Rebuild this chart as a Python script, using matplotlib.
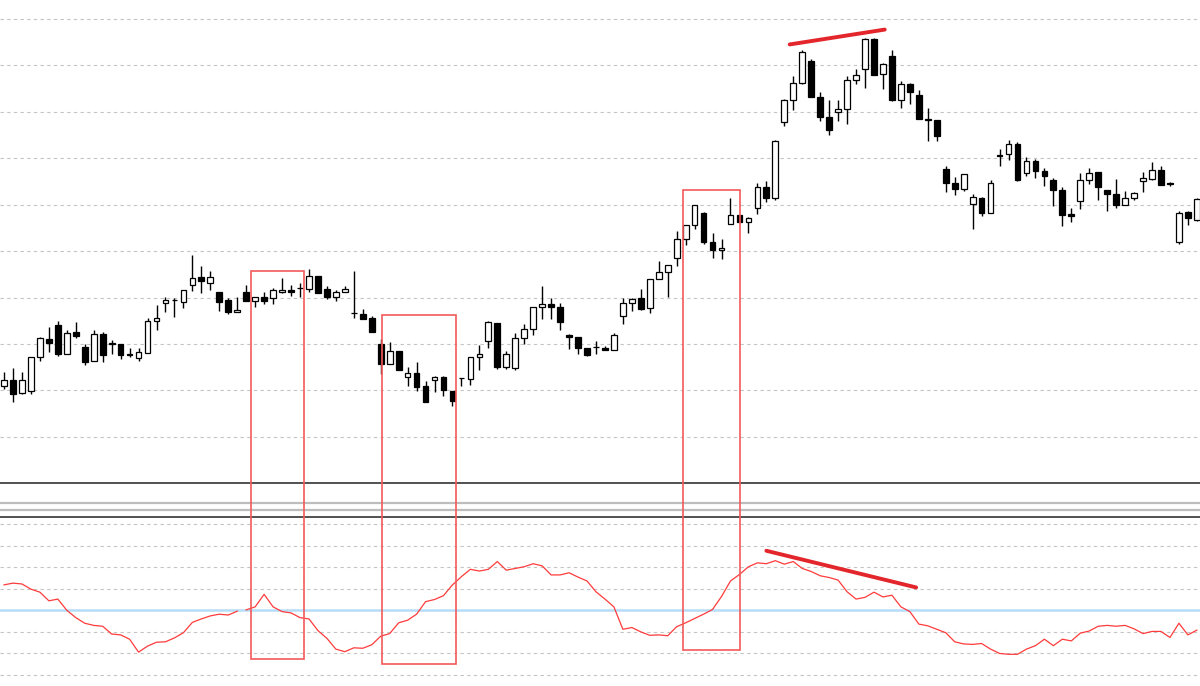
import matplotlib
matplotlib.use("Agg")
import matplotlib.pyplot as plt
from matplotlib.patches import Rectangle
import numpy as np

# candle data (open, high, low, close), one row per bar
ohlc = [
    (110.9, 114.0, 110.4, 112.2), (112.2, 114.8, 107.4, 109.3), (109.5, 113.9, 109.2, 112.2),
    (109.9, 117.3, 109.2, 117.2), (117.1, 121.4, 116.3, 121.3), (121.0, 123.7, 118.3, 120.3),
    (124.0, 124.9, 117.4, 117.8), (117.8, 123.0, 117.8, 122.4), (122.5, 124.7, 121.3, 121.7),
    (119.4, 120.1, 115.4, 116.2), (116.3, 123.1, 116.3, 122.2), (122.2, 122.5, 116.2, 117.6),
    (119.9, 120.9, 117.9, 120.3), (120.1, 120.1, 116.8, 117.6), (117.8, 119.2, 117.3, 117.7),
    (116.9, 119.1, 116.3, 118.2), (118.0, 125.7, 118.0, 125.0), (124.9, 128.3, 123.1, 125.5),
    (128.8, 130.1, 126.8, 129.4), (129.5, 129.9, 125.8, 129.5), (129.1, 131.7, 127.8, 131.6),
    (132.8, 139.2, 131.3, 134.1), (134.4, 136.8, 131.0, 133.6), (133.2, 135.8, 131.7, 134.4),
    (131.2, 131.2, 127.0, 129.1), (129.4, 129.9, 126.5, 126.9), (126.9, 130.1, 126.8, 127.4),
    (131.1, 132.8, 129.2, 129.2), (129.2, 130.1, 128.0, 130.1), (130.1, 131.2, 128.7, 129.2),
    (129.9, 132.1, 128.7, 131.6), (131.2, 134.2, 130.9, 131.6), (131.6, 132.8, 130.3, 131.2),
    (132.1, 133.1, 130.1, 132.1), (131.8, 136.1, 131.1, 134.6), (134.6, 134.7, 130.9, 130.9),
    (131.9, 132.4, 129.6, 130.1), (130.1, 131.7, 129.2, 131.2), (131.1, 132.4, 131.1, 131.9),
    (126.7, 135.7, 125.6, 126.6), (126.5, 127.5, 125.4, 125.4), (125.6, 126.1, 122.5, 122.6),
    (120.1, 121.1, 113.5, 115.6), (115.6, 120.4, 115.6, 118.5), (118.5, 118.5, 114.5, 114.5),
    (112.9, 115.0, 110.9, 113.8), (113.8, 116.1, 109.8, 110.7), (110.9, 112.0, 107.4, 107.4),
    (112.2, 113.2, 109.7, 112.8), (112.8, 113.2, 108.9, 110.0), (109.9, 109.9, 106.7, 107.7),
    (112.7, 112.7, 110.9, 112.6), (112.5, 117.2, 111.1, 117.1), (117.1, 119.7, 114.5, 117.9),
    (120.6, 125.0, 119.2, 124.7), (124.6, 124.6, 114.7, 115.0), (115.0, 118.4, 114.7, 117.9),
    (114.8, 122.4, 114.3, 121.2), (121.2, 124.2, 119.9, 123.2), (123.3, 127.9, 122.0, 127.9),
    (127.9, 132.4, 125.3, 128.5), (128.6, 129.9, 125.4, 127.9), (127.9, 128.9, 123.1, 124.7),
    (122.0, 122.2, 119.0, 121.6), (121.4, 121.4, 117.9, 119.1), (119.1, 119.1, 117.4, 117.6),
    (119.4, 120.7, 117.8, 119.4), (119.1, 119.6, 118.8, 118.8), (118.8, 122.4, 118.8, 122.0),
    (126.0, 129.9, 124.2, 128.9), (128.9, 130.0, 127.1, 129.6), (129.8, 131.9, 127.4, 127.6),
    (127.8, 133.9, 126.7, 133.9), (133.9, 137.8, 133.9, 135.4), (135.4, 136.9, 130.1, 136.9),
    (138.6, 144.4, 136.8, 142.6), (142.6, 145.6, 141.4, 145.6), (145.6, 150.0, 144.7, 149.9),
    (148.1, 148.4, 141.5, 141.9), (142.0, 143.9, 138.5, 140.2), (140.2, 142.7, 138.3, 140.7),
    (145.9, 151.5, 145.9, 147.7), (147.7, 147.7, 146.2, 146.2), (146.2, 147.4, 143.8, 147.2),
    (149.2, 154.6, 147.9, 153.7), (153.7, 155.0, 150.6, 151.5), (151.5, 163.9, 151.0, 163.7),
    (167.8, 172.7, 166.9, 172.5), (172.5, 177.8, 170.4, 176.1), (176.1, 183.4, 175.9, 182.8),
    (181.0, 181.4, 173.1, 173.2), (173.1, 174.2, 168.1, 168.9), (168.9, 172.5, 165.0, 166.0),
    (169.9, 172.5, 168.1, 170.5), (170.6, 177.8, 167.3, 176.8), (176.8, 179.3, 175.9, 177.9),
    (179.3, 185.8, 175.2, 185.7), (185.7, 185.8, 177.9, 177.9), (178.1, 180.6, 174.8, 180.3),
    (182.1, 183.3, 172.3, 172.5), (172.5, 176.6, 170.9, 175.9), (175.9, 176.3, 171.6, 174.3),
    (173.7, 174.7, 168.4, 168.4), (168.4, 170.9, 163.7, 168.3), (168.2, 168.2, 163.7, 164.8),
    (157.6, 158.3, 152.8, 154.7), (154.7, 156.0, 152.0, 153.3), (153.3, 156.7, 153.0, 156.6),
    (150.1, 152.2, 144.7, 151.7), (151.5, 151.7, 147.5, 148.2), (148.2, 155.4, 148.1, 154.6),
    (160.5, 162.0, 158.4, 160.8), (160.9, 164.0, 159.7, 163.0), (163.0, 163.5, 155.1, 155.3),
    (156.8, 160.3, 156.1, 159.4), (159.4, 159.8, 155.8, 157.3), (157.3, 157.8, 154.0, 156.1),
    (155.4, 155.8, 149.7, 153.1), (153.1, 153.7, 145.4, 147.7), (147.9, 149.3, 146.2, 147.5),
    (150.8, 156.9, 149.0, 155.4), (155.4, 157.9, 154.4, 156.8), (157.1, 157.1, 151.1, 153.8),
    (153.1, 153.1, 148.6, 152.3), (152.3, 155.6, 149.2, 150.0), (150.0, 152.9, 149.9, 151.5),
    (151.5, 152.7, 151.1, 152.5), (155.2, 157.1, 152.8, 155.8), (155.6, 159.1, 155.4, 157.4),
    (157.4, 158.4, 154.3, 154.3), (154.6, 154.9, 154.0, 154.5), (141.9, 148.6, 141.6, 148.3),
    (148.4, 148.6, 145.7, 147.2), (146.8, 151.5, 146.5, 151.3),
]

# oscillator in the lower pane
osc = [59, 63, 61, 49, 42, 22, 26, 0, -17, -30, -35, -37, -55, -57, -67, -97, -83, -74,
       -73, -64, -52, -28, -20, -13, -9, -11, -2, 1, 8, 37, 8, -3, -6, -17, -20, -47, -65,
       -90, -96, -87, -88, -80, -60, -54, -29, -23, -9, 20, 25, 34, 59, 78, 95, 91, 95, 113,
       93, 97, 101, 108, 103, 82, 82, 87, 77, 68, 43, 26, 8, -44, -40, -50, -58, -57, -59,
       -38, -29, -19, -9, 2, 32, 68, 83, 101, 110, 108, 115, 107, 113, 97, 90, 80, 76, 70,
       43, 26, 30, 42, 31, 35, 8, -3, -32, -36, -44, -52, -73, -78, -79, -77, -90, -100,
       -102, -102, -90, -82, -67, -82, -67, -71, -53, -48, -37, -35, -37, -35, -43, -54,
       -49, -49, -63, -30, -57, -46]
osc_break = 27  # line is interrupted before this bar

price_grid = [100, 110, 120, 130, 140, 150, 160, 170, 180, 190]
osc_grid = [200, 150, 100, 50, -50, -100, -150]

# divergence lines: (bar0, value0, bar1, value1)
price_trend = (87.6, 184.5, 98.2, 187.7)
osc_trend = (85.0, 138, 101.7, 53)

# boxes: (bar left, bar right, price top, oscillator bottom)
boxes = [(27.5, 33.4, 135.7, -112), (42.1, 50.4, 126.3, -124), (75.7, 82.1, 153.1, -92)]

o, h, l, c = (np.array(v) for v in zip(*ohlc))
idx = np.arange(len(o))
xlim = (-0.45, 133.35)

fig = plt.figure(figsize=(12, 6.86), dpi=100)
ax_p = fig.add_axes([0, 0.2955, 1, 0.7045])
ax_m = fig.add_axes([0, 0.2561, 1, 0.0111])
ax_i = fig.add_axes([0, 0, 1, 0.2468])

for ax in (ax_p, ax_m, ax_i):
    ax.set_xlim(*xlim)
    ax.set_xticks([])
    ax.set_yticks([])
    for s in ax.spines.values():
        s.set_visible(False)

ax_p.set_ylim(90, 194.07)
ax_i.set_ylim(-175.5, 217)
ax_m.set_ylim(0, 1)

grid_kw = dict(color="#c4c4c4", lw=0.8, linestyle=(0, (3, 3)), zorder=0)
for g in price_grid:
    ax_p.axhline(g, **grid_kw)
for g in osc_grid:
    ax_i.axhline(g, **grid_kw)
ax_i.axhline(0, color="#b5dcf8", lw=1.8, zorder=1)

ax_p.spines["bottom"].set_visible(True)
ax_p.spines["bottom"].set_color("#333333")
ax_p.spines["bottom"].set_linewidth(1.2)
for side in ("top", "bottom"):
    ax_m.spines[side].set_visible(True)
    ax_m.spines[side].set_color("#bdbdbd")
    ax_m.spines[side].set_linewidth(1.6)
ax_i.spines["top"].set_visible(True)
ax_i.spines["top"].set_color("#333333")
ax_i.spines["top"].set_linewidth(1.2)

# candles
up = c >= o
ax_p.vlines(idx, l, h, color="black", lw=1.0, zorder=2)
ax_p.bar(idx, np.abs(c - o), bottom=np.minimum(o, c), width=0.64,
         color=np.where(up, "white", "black"), edgecolor="black", linewidth=0.9, zorder=3)

# oscillator
ax_i.plot(idx[:osc_break], osc[:osc_break], color="#ff3b3b", lw=0.9, zorder=3)
ax_i.plot(idx[osc_break:], osc[osc_break:], color="#ff3b3b", lw=0.9, zorder=3)

# divergence lines
ax_p.plot(price_trend[::2], price_trend[1::2], color="#e3262b", lw=2.8,
          solid_capstyle="round", zorder=4)
ax_i.plot(osc_trend[::2], osc_trend[1::2], color="#e3262b", lw=2.8,
          solid_capstyle="round", zorder=4)

# boxes spanning both panes
to_fig = fig.transFigure.inverted()
for x0, x1, top, bot in boxes:
    fx0, fy1 = to_fig.transform(ax_p.transData.transform((x0, top)))
    fx1, fy0 = to_fig.transform(ax_i.transData.transform((x1, bot)))
    fig.add_artist(Rectangle((fx0, fy0), fx1 - fx0, fy1 - fy0, transform=fig.transFigure,
                             fill=False, edgecolor="#f25a5a", lw=1.2, zorder=5))

fig.savefig("out.png", dpi=100)
